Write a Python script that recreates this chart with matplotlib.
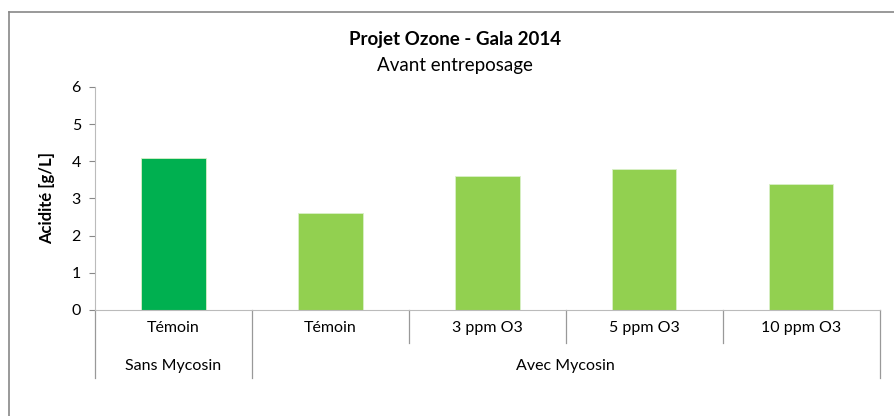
import matplotlib
matplotlib.use("Agg")
import matplotlib.pyplot as plt
from matplotlib.lines import Line2D

# data
treatments = ["Témoin", "Témoin", "3 ppm O3", "5 ppm O3", "10 ppm O3"]
groups = ["Sans Mycosin", "Avec Mycosin"]
group_sizes = [1, 4]
acidity = [4.1, 2.6, 3.6, 3.8, 3.4]
bar_colors = ["#00B050", "#92D050", "#92D050", "#92D050", "#92D050"]

plt.rcParams['font.family'] = ['Lato', 'DejaVu Sans']

fig = plt.figure(figsize=(8.95, 4.16), dpi=100)
ax = fig.add_axes([0.106, 0.255, 0.877, 0.536])

x = list(range(len(acidity)))
ax.bar(x, acidity, width=0.41, color=bar_colors, edgecolor="#d9f0c8", linewidth=0.6)

ax.set_xlim(-0.5, len(acidity) - 0.5)
ax.set_ylim(0, 6)
ax.set_yticks(range(0, 7))
ax.tick_params(axis="y", direction="out", length=4, color="#888888", labelsize=11.5, pad=6)
ax.set_xticks([])
for s in ["top", "right"]:
    ax.spines[s].set_visible(False)
ax.spines["left"].set_color("#BBBBBB")
ax.spines["bottom"].set_color("#BBBBBB")

ax.set_ylabel("Acidité [g/L]", fontsize=12, fontweight="bold", labelpad=12)

# two-level category axis
trans = ax.get_xaxis_transform()
for i, t in enumerate(treatments):
    ax.text(i, -0.08, t, transform=trans, ha="center", va="center", fontsize=11.5)

edges = [-0.5 + k for k in range(len(treatments) + 1)]
group_edges = [-0.5]
for n in group_sizes:
    group_edges.append(group_edges[-1] + n)
for e in edges:
    low = -0.305 if e in group_edges else -0.148
    ax.add_line(Line2D([e, e], [0, low], transform=trans, color="#999999", lw=0.9, clip_on=False))
for k, g in enumerate(groups):
    mid = (group_edges[k] + group_edges[k + 1]) / 2
    ax.text(mid, -0.25, g, transform=trans, ha="center", va="center", fontsize=11.5)

fig.text(0.508, 0.904, "Projet Ozone - Gala 2014", ha="center", va="center",
         fontsize=13.5, fontweight="bold")
fig.text(0.508, 0.843, "Avant entreposage", ha="center", va="center", fontsize=13.5)

# chart frame (top and left edges visible)
fig.add_artist(Line2D([0.010, 1.0], [0.971, 0.971], transform=fig.transFigure, color="#888888", lw=1.2))
fig.add_artist(Line2D([0.010, 0.010], [0.0, 0.971], transform=fig.transFigure, color="#888888", lw=1.2))

fig.savefig("out.png", dpi=100)
